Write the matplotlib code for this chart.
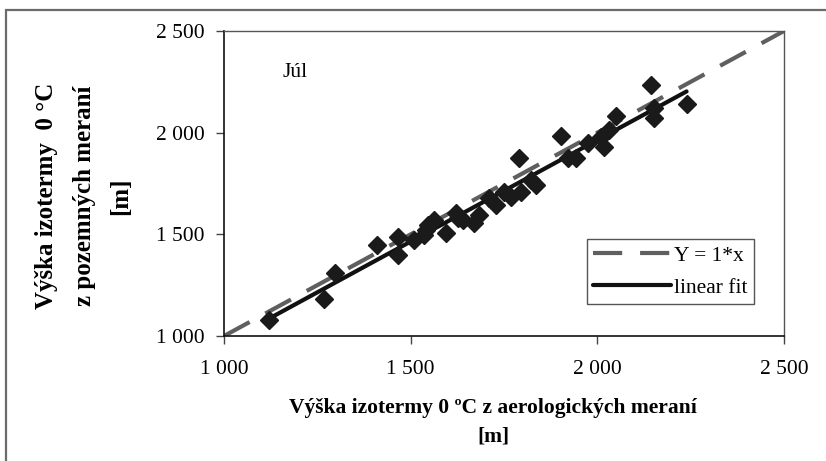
import numpy as np
import matplotlib
matplotlib.use("Agg")
import matplotlib.pyplot as plt
from matplotlib.patches import Rectangle

# values
aero_x = [1121, 1269, 1298, 1409, 1465, 1465, 1508, 1535, 1540, 1546, 1562, 1594,
          1621, 1626, 1640, 1669, 1683, 1710, 1728, 1750, 1769, 1790, 1796, 1823,
          1836, 1903, 1922, 1943, 1976, 2011, 2019, 2030, 2051, 2145, 2153, 2153, 2239]
ground_y = [1079, 1182, 1310, 1447, 1398, 1487, 1472, 1497, 1520, 1546, 1570, 1506,
            1605, 1580, 1570, 1556, 1595, 1678, 1644, 1708, 1683, 1875, 1708, 1767,
            1742, 1983, 1875, 1875, 1949, 1978, 1929, 2013, 2082, 2234, 2121, 2072, 2141]
ticks = [1000, 1500, 2000, 2500]
tick_labels = ["1 000", "1 500", "2 000", "2 500"]

plt.rcParams["font.family"] = ["Liberation Serif", "DejaVu Serif"]

fig = plt.figure(figsize=(8.26, 4.61), dpi=100)
ax = fig.add_axes([224 / 826, 125 / 461, 560 / 826, 305 / 461])

# outer chart border (cut off at right and bottom)
fig.patches.append(Rectangle((6 / 826, -0.1), 2, (451 / 461) + 0.1,
                             transform=fig.transFigure, fill=False,
                             edgecolor="#6b6b6b", linewidth=1.6))

ax.plot(ticks[0::3], ticks[0::3], color="#5f5f5f", lw=3, dashes=(7, 4.3),
        label="Y = 1*x", zorder=2)

k, q = np.polyfit(aero_x, ground_y, 1)
xf = np.array([min(aero_x), max(aero_x)])
ax.plot(xf, k * xf + q, color="#111111", lw=3, label="linear fit", zorder=3,
        solid_capstyle="round")

ax.plot(aero_x, ground_y, "D", color="#1a1a1a", ms=9.5, zorder=4)

ax.set_xlim(1000, 2500)
ax.set_ylim(1000, 2500)
ax.set_xticks(ticks)
ax.set_xticklabels(tick_labels)
ax.set_yticks(ticks)
ax.set_yticklabels(tick_labels)
ax.tick_params(axis="both", labelsize=15.5, length=6, width=1, direction="out",
               color="#444444", pad=8)
ax.tick_params(axis="x", pad=11)

for side in ["left", "bottom"]:
    ax.spines[side].set_color("#111111")
    ax.spines[side].set_linewidth(1.2)
for side in ["top", "right"]:
    ax.spines[side].set_color("#555555")
    ax.spines[side].set_linewidth(1.0)

ax.text(0.105, 0.865, "Júl", transform=ax.transAxes, fontsize=15.5,
        va="center", ha="left")

fig.text(493 / 826, 1 - 408 / 461, "Výška izotermy 0 ºC z aerologických meraní",
         fontsize=15.5, fontweight="bold", ha="center", va="center")
fig.text(493 / 826, 1 - 436 / 461, "[m]", fontsize=15.5, fontweight="bold",
         ha="center", va="center")

ylab = ["Výška izotermy  0 °C", "z pozemných meraní", "[m]"]
for xpix, t in zip([47, 85, 121], ylab):
    fig.text(xpix / 826, 1 - 196 / 461, t, fontsize=18, fontweight="bold",
             rotation=90, ha="center", va="center")

leg = ax.legend(loc="lower right", bbox_to_anchor=(754 / 826, 157 / 461),
                bbox_transform=fig.transFigure, fontsize=15.5, frameon=True,
                fancybox=False, edgecolor="#555555", framealpha=1,
                handlelength=3.6, handletextpad=0.15, labelspacing=0.55,
                borderpad=0.3, borderaxespad=0)
leg.get_frame().set_linewidth(1.0)

fig.savefig("out.png", dpi=100)
